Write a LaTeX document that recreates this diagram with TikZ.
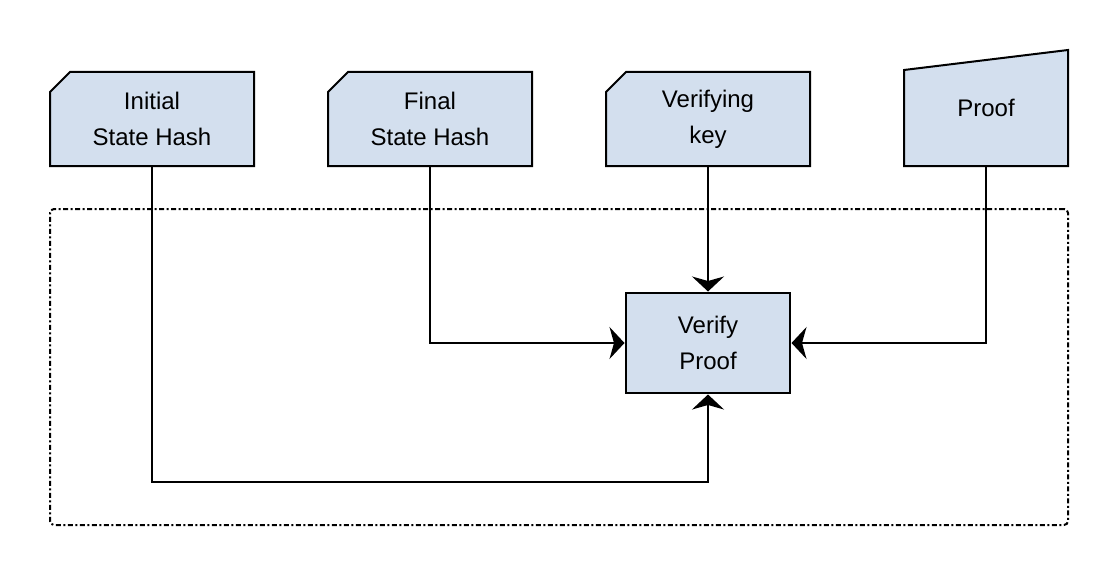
\documentclass[tikz,border=0pt]{standalone}
\usepackage{fontspec}
\setmainfont{Liberation Sans}
\usetikzlibrary{arrows.meta}
\definecolor{boxfill}{RGB}{211,223,238}
\begin{document}
\begin{tikzpicture}[x=1pt,y=-1pt,
  lbl/.style={rectangle, inner sep=0pt, outer sep=0pt, align=center,
    font=\fontsize{24}{36}\selectfont},
  card/.style={draw=black, fill=boxfill, line width=2pt, line join=miter},
  conn/.style={draw=black, line width=1.5pt, shorten >=1.5pt,
    -{Stealth[length=15pt,width=32pt,inset=4.5pt]}},
  grpbox/.style={draw=black, line width=2pt, rounded corners=4pt,
    dash pattern=on 5pt off 2.5pt on 2pt off 2.5pt}
]
\path[use as bounding box] (0,0) rectangle (1118,575);

% group box
\node[grpbox, minimum width=1018pt, minimum height=316pt, inner sep=0pt, outer sep=0pt] (grp) at (559,367) {};

% card-shaped inputs
\node[lbl, minimum width=204pt, minimum height=94pt] (init) at (152,119) {};
\node[lbl, minimum width=204pt, minimum height=94pt] (fin) at (430,119) {};
\node[lbl, minimum width=204pt, minimum height=94pt] (vk) at (708,119) {};
\foreach \n in {init,fin,vk}{
  \draw[card] (\n.south west) -- (\n.south east) -- (\n.north east)
    -- ([xshift=20pt]\n.north west) -- ([yshift=-20pt]\n.north west) -- cycle;
}
\node[lbl] (initt) at (init.center) {Initial\\State Hash};
\node[lbl] (fint) at (fin.center) {Final\\State Hash};
\node[lbl] (vkt) at (vk.center) {Verifying\\key};

% manual input (proof)
\node[lbl, minimum width=164pt, minimum height=116pt] (proof) at (986,108) {};
\draw[card] (proof.south west) -- (proof.south east) -- (proof.north east)
  -- ([yshift=-20pt]proof.north west) -- cycle;
\node[lbl] (prooft) at (proof.center) {Proof};

% verify proof
\node[lbl, draw=black, fill=boxfill, line width=2pt, minimum width=164pt, minimum height=100pt] (vp) at (708,343) {Verify\\Proof};

% connectors
\draw[conn] (init.south) -- ++(0,316) -| (vp.south);
\draw[conn] (fin.south) |- (vp.west);
\draw[conn] (vk.south) -- (vp.north);
\draw[conn] (proof.south) |- (vp.east);
\end{tikzpicture}
\end{document}
